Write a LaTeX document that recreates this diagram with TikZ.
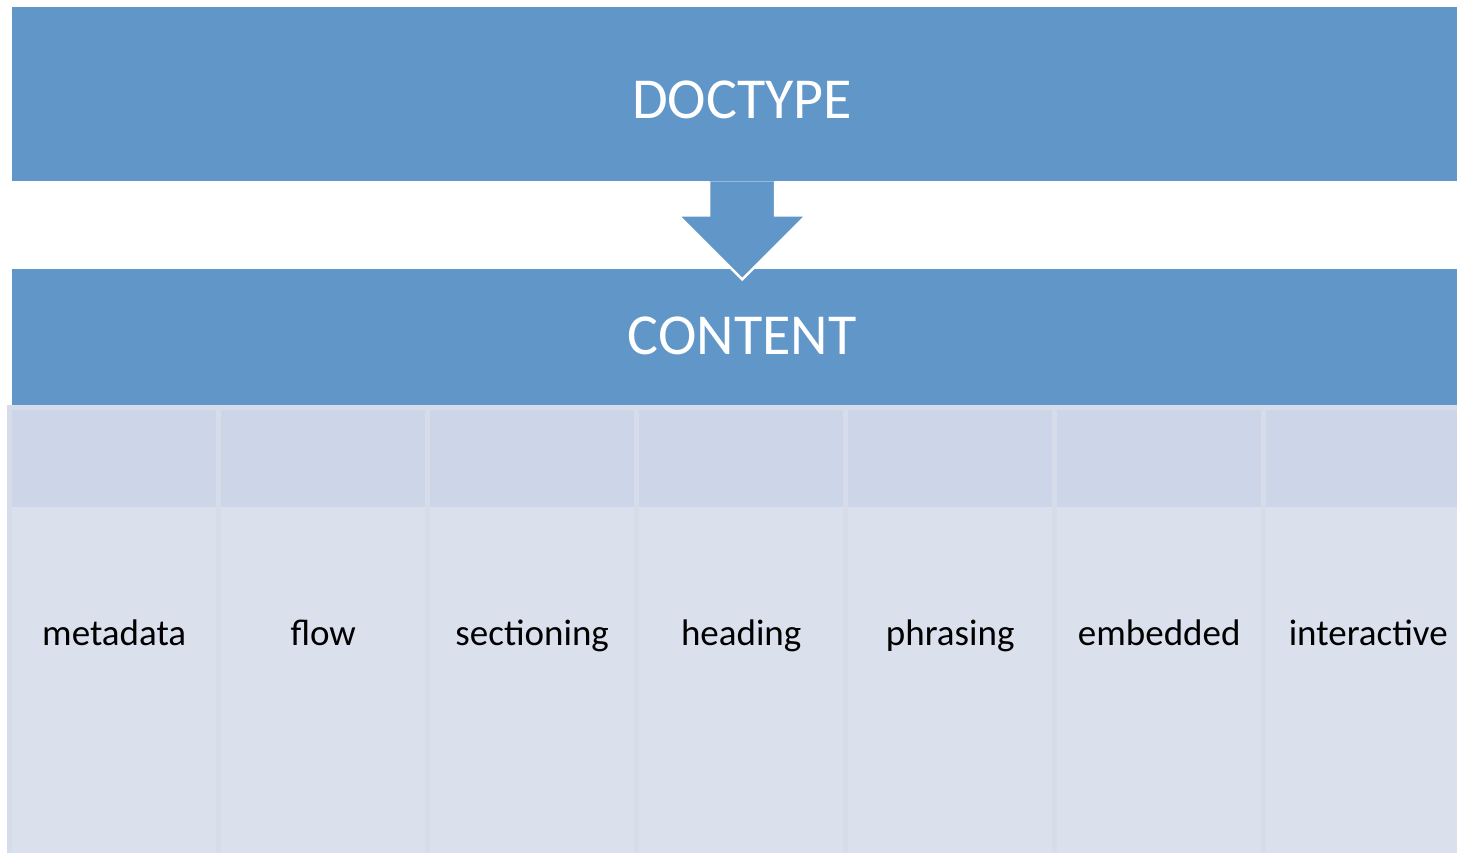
\documentclass[tikz,border=0pt]{standalone}
\usepackage{fontspec}
\setmainfont{Carlito}
\usetikzlibrary{positioning}
\definecolor{barblue}{RGB}{97,150,201}
\definecolor{headfill}{RGB}{205,214,232}
\definecolor{bodyfill}{RGB}{219,224,237}
\definecolor{gapfill}{RGB}{214,220,234}
\newcommand{\catcolumn}[3]{
  \node[catbody] (#1) at (#2,410) {#3};
  \node[cathead, anchor=north] (#1top) at (#1.north) {};
}
\tikzset{
  bar/.style     = {fill=barblue, text=white, anchor=north west,
                    minimum width=1460pt, inner sep=0pt, text depth=0pt,
                    font=\fontsize{58}{60}\selectfont},
  catbody/.style = {fill=bodyfill, anchor=north west, inner sep=0pt,
                    minimum width=204pt, minimum height=443pt,
                    text height=35pt, text depth=7pt,
                    font=\fontsize{37}{40}\selectfont},
  cathead/.style = {fill=headfill, inner sep=0pt,
                    minimum width=204pt, minimum height=97pt},
  arrowshape/.style = {fill=barblue, draw=white, line width=2.5pt,
                       line join=miter}
}

\begin{document}
\begin{tikzpicture}[x=1pt, y=-1pt]
  \useasboundingbox (0,0) rectangle (1457,853);
  \clip (0,0) rectangle (1457,853);
  \node[bar, minimum height=174pt, text height=48pt] (doctype) at (12,7) {DOCTYPE};
  \node[bar, minimum height=136pt, text height=34pt] (content) at (12,269) {CONTENT};
  \draw[arrowshape] ([xshift=-33pt]doctype.south) -- ++(0,34) -- ++(-31,0)
    -- ++(64,64) -- ++(64,-64) -- ++(-31,0) -- ++(0,-34);
  \node[fill=gapfill, anchor=north west, inner sep=0pt,
        minimum width=1470pt, minimum height=448pt] (categories) at (7,405) {};
  \catcolumn{metadata}{12}{metadata}
  \catcolumn{flow}{221}{flow}
  \catcolumn{sectioning}{430}{sectioning}
  \catcolumn{heading}{639}{heading}
  \catcolumn{phrasing}{848}{phrasing}
  \catcolumn{embedded}{1057}{embedded}
  \catcolumn{interactive}{1266}{interactive}
\end{tikzpicture}
\end{document}
